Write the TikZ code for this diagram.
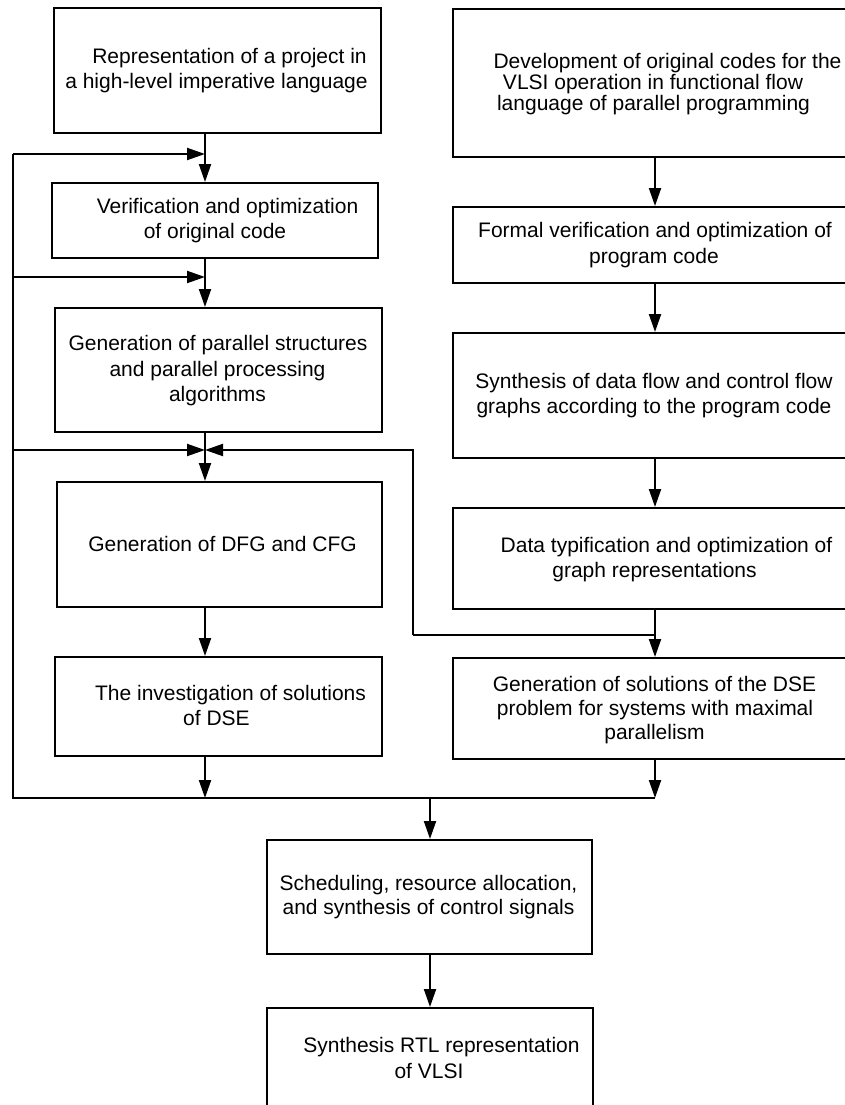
\documentclass[tikz,border=0pt]{standalone}
\usepackage{fontspec}
\setmainfont{Liberation Sans}
\usetikzlibrary{arrows.meta}
\begin{document}
\begin{tikzpicture}[x=1pt,y=-1pt,
  box/.style={draw, line width=2pt, rectangle, inner sep=0pt},
  txt/.style={anchor=base, inner sep=0pt, font=\fontsize{21}{25}\selectfont},
  arr/.style={line width=2pt, -{Triangle[length=18pt,width=12pt]}},
  ln/.style={line width=2pt}]
\useasboundingbox (0,0) rectangle (845,1105);
\clip (0,0) rectangle (845,1105);
\fill[white] (0,0) rectangle (845,1105);

% left column boxes
\node[box, minimum width=327pt, minimum height=125pt] (b1) at (217.5,70.5) {};
\node[box, minimum width=326pt, minimum height=75pt]  (b2) at (215,220.5) {};
\node[box, minimum width=327pt, minimum height=124pt] (b3) at (218.5,370) {};
\node[box, minimum width=325pt, minimum height=125pt] (b4) at (219.5,544.5) {};
\node[box, minimum width=327pt, minimum height=99pt]  (b5) at (218.5,706.5) {};
% right column boxes
\node[box, minimum width=395pt, minimum height=148pt] (r1) at (650.5,83) {};
\node[box, minimum width=395pt, minimum height=76pt]  (r2) at (650.5,245) {};
\node[box, minimum width=395pt, minimum height=125pt] (r3) at (650.5,395.5) {};
\node[box, minimum width=395pt, minimum height=101pt] (r4) at (650.5,558.5) {};
\node[box, minimum width=395pt, minimum height=101pt] (r5) at (650.5,708.5) {};
% bottom boxes
\node[box, minimum width=325pt, minimum height=114pt] (s1) at (429.5,897) {};
\node[box, minimum width=326pt, minimum height=107pt] (s2) at (430,1061.5) {};

% texts
\node[txt] (b1a) at (229.5,63.6) {Representation of a project in};
\node[txt] (b1b) at (216.5,88.6) {a high-level imperative language};
\node[txt] (b2a) at (227.5,213.6) {Verification and optimization};
\node[txt] (b2b) at (215,238.6) {of original code};
\node[txt] (b3a) at (218,350.3) {Generation of parallel structures};
\node[txt] (b3b) at (217.5,376) {and parallel processing};
\node[txt] (b3c) at (217.5,401.3) {algorithms};
\node[txt] (b4a) at (222.5,551.5) {Generation of DFG and CFG};
\node[txt] (b5a) at (230.5,700.3) {The investigation of solutions};
\node[txt] (b5b) at (216.5,725.8) {of DSE};
\node[txt] (r1a) at (667.5,68.6) {Development of original codes for the};
\node[txt] (r1b) at (653,89.6) {VLSI operation in functional flow};
\node[txt] (r1c) at (653.5,110.3) {language of parallel programming};
\node[txt] (r2a) at (655,237) {Formal verification and optimization of};
\node[txt] (r2b) at (654,263.6) {program code};
\node[txt] (r3a) at (654,388.6) {Synthesis of data flow and control flow};
\node[txt] (r3b) at (654,413.6) {graphs according to the program code};
\node[txt] (r4a) at (666.5,552) {Data typification and optimization of};
\node[txt] (r4b) at (654.5,577) {graph representations};
\node[txt] (r5a) at (654.5,691.5) {Generation of solutions of the DSE};
\node[txt] (r5b) at (655,715.3) {problem for systems with maximal};
\node[txt] (r5c) at (654.5,739.3) {parallelism};
\node[txt] (s1a) at (428.5,890.3) {Scheduling, resource allocation,};
\node[txt] (s1b) at (428.5,914.6) {and synthesis of control signals};
\node[txt] (s2a) at (441.5,1052) {Synthesis RTL representation};
\node[txt] (s2b) at (429,1078.2) {of VLSI};

% junction coordinates
\coordinate (c1) at (205,154);
\coordinate (c2) at (205,277);
\coordinate (c3) at (205,450);
\coordinate (c4) at (413,450);
\coordinate (c5) at (413,635);
\coordinate (c6) at (655,635);
\coordinate (c7) at (205,798);
\coordinate (c8) at (655,798);
\coordinate (c9) at (430,798);
\coordinate (l1) at (13,154);
\coordinate (l2) at (13,277);
\coordinate (l3) at (13,450);
\coordinate (l4) at (13,798);

% connectors
\draw[ln] (l1) -- (l4) -- (c8);
\draw[arr] (l1) -- (c1);
\draw[arr] (l2) -- (c2);
\draw[arr] (l3) -- (c3);
\draw[arr] (b1.south -| c1) -- (b2.north -| c1);
\draw[arr] (b2.south -| c2) -- (b3.north -| c2);
\draw[arr] (b3.south -| c3) -- (b4.north -| c3);
\draw[arr] (b4.south -| c3) -- (b5.north -| c3);
\draw[arr] (b5.south -| c7) -- (c7);
\draw[arr] (r1.south -| c6) -- (r2.north -| c6);
\draw[arr] (r2.south -| c6) -- (r3.north -| c6);
\draw[arr] (r3.south -| c6) -- (r4.north -| c6);
\draw[arr] (r4.south -| c6) -- (r5.north -| c6);
\draw[ln] (c6) -- (c5);
\draw[arr] (c5) -- (c4) -- (c3);
\draw[arr] (r5.south -| c8) -- (c8);
\draw[arr] (c9) -- (s1.north -| c9);
\draw[arr] (s1.south -| c9) -- (s2.north -| c9);
\end{tikzpicture}
\end{document}
